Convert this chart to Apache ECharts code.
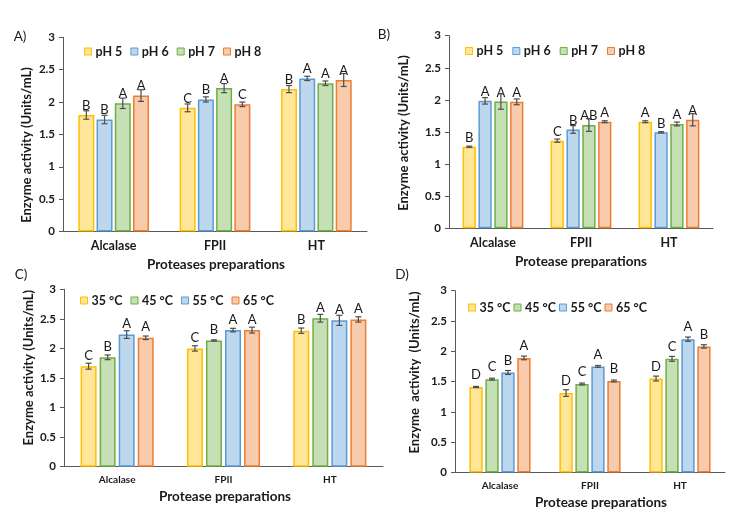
<!DOCTYPE html>
<html><head><meta charset="utf-8">
<script src="https://cdn.jsdelivr.net/npm/echarts@6/dist/echarts.min.js"></script>
<style>html,body{margin:0;padding:0;background:#fff}#c{width:734px;height:518px}</style>
</head><body><div id="c"></div>
<script>
// ---------- data ----------
const categories = ['Alcalase', 'FPII', 'HT'];
const phNames = ['pH 5', 'pH 6', 'pH 7', 'pH 8'];
const tempNames = ['35 °C', '45 °C', '55 °C', '65 °C'];

// Panel A (pH, series x category)
const aVals = [[1.80, 1.91, 2.20], [1.73, 2.04, 2.365], [1.98, 2.215, 2.29], [2.10, 1.965, 2.34]];
const aErrs = [[0.065, 0.06, 0.055], [0.065, 0.04, 0.033], [0.08, 0.07, 0.035], [0.09, 0.035, 0.10]];
const aLets = [['B', 'C', 'B'], ['B', 'B', 'A'], ['A', 'A', 'A'], ['A', 'C', 'A']];

// Panel B (pH)
const bVals = [[1.27, 1.365, 1.66], [1.985, 1.54, 1.495], [1.975, 1.61, 1.625], [1.97, 1.66, 1.69]];
const bErrs = [[0.01, 0.025, 0.015], [0.05, 0.06, 0.01], [0.12, 0.10, 0.03], [0.045, 0.015, 0.095]];
const bLets = [['B', 'C', 'A'], ['A', 'B', 'B'], ['A', 'AB', 'A'], ['A', 'A', 'A']];

// Panel C (temperature)
const cVals = [[1.70, 2.00, 2.30], [1.85, 2.135, 2.51], [2.235, 2.31, 2.475], [2.18, 2.31, 2.49]];
const cErrs = [[0.05, 0.045, 0.045], [0.04, 0.01, 0.065], [0.065, 0.03, 0.085], [0.03, 0.05, 0.045]];
const cLets = [['C', 'C', 'B'], ['B', 'B', 'A'], ['A', 'A', 'A'], ['A', 'A', 'A']];

// Panel D (temperature)
const dVals = [[1.41, 1.31, 1.55], [1.54, 1.46, 1.875], [1.65, 1.75, 2.20], [1.89, 1.51, 2.08]];
const dErrs = [[0.01, 0.055, 0.04], [0.015, 0.015, 0.04], [0.033, 0.015, 0.035], [0.03, 0.015, 0.028]];
const dLets = [['D', 'D', 'D'], ['C', 'C', 'C'], ['B', 'A', 'A'], ['A', 'B', 'B']];

// ---------- styling ----------
const FONT = 'Lato';
const YEL = { fill: '#FFE699', line: '#FFC000' };
const BLU = { fill: '#BDD7EE', line: '#5B9BD5' };
const GRN = { fill: '#C5E0B4', line: '#70AD47' };
const ORG = { fill: '#F8CBAD', line: '#ED7D31' };

const panels = [
  { names: phNames, vals: aVals, errs: aErrs, lets: aLets, cols: [YEL, BLU, GRN, ORG],
    grid: { left: 63, top: 37.3, width: 304, height: 194.2 }, barW: 16, gap: 0.14, labDist: 3, catFont: 12.5,
    legend: { left: 84, top: 45, gap: 8 } },
  { names: phNames, vals: bVals, errs: bErrs, lets: bLets, cols: [YEL, BLU, GRN, ORG],
    grid: { left: 449, top: 35.7, width: 264, height: 192.6 }, barW: 13.3, gap: 0.19, labDist: 2.5, catFont: 12.5,
    legend: { left: 465, top: 44.5, gap: 9 } },
  { names: tempNames, vals: cVals, errs: cErrs, lets: cLets, cols: [YEL, GRN, BLU, ORG],
    grid: { left: 64, top: 289.3, width: 319, height: 177.4 }, barW: 16, gap: 0.19, labDist: 4, catFont: 10,
    legend: { left: 80, top: 294, gap: 8 } },
  { names: tempNames, vals: dVals, errs: dErrs, lets: dLets, cols: [YEL, GRN, BLU, ORG],
    grid: { left: 455, top: 290.7, width: 270, height: 181.7 }, barW: 13.3, gap: 0.2, labDist: 5.5, catFont: 10,
    legend: { left: 468, top: 301, gap: 3 } }
];

const grid = [], xAxis = [], yAxis = [], series = [], legend = [];
panels.forEach((p, pi) => {
  grid.push(Object.assign({ containLabel: false }, p.grid));
  xAxis.push({
    type: 'category', gridIndex: pi, data: categories,
    axisLine: { lineStyle: { color: '#595959', width: 1 } },
    axisTick: { show: false },
    axisLabel: { fontFamily: FONT, fontWeight: 'bold', fontSize: p.catFont, color: '#1a1a1a', margin: 8 }
  });
  yAxis.push({
    type: 'value', gridIndex: pi, min: 0, max: 3, interval: 0.5,
    axisLine: { show: true, lineStyle: { color: '#595959', width: 1 } },
    axisTick: { show: true, length: 4, lineStyle: { color: '#595959' } },
    splitLine: { show: false },
    axisLabel: { fontFamily: FONT, fontWeight: 'bold', fontSize: 11.5, color: '#1a1a1a', margin: 8 }
  });
  legend.push({
    data: p.names, left: p.legend.left, top: p.legend.top, padding: 0,
    itemWidth: 7, itemHeight: 7, itemGap: p.legend.gap, icon: 'rect',
    itemStyle: { borderWidth: 1 },
    textStyle: { fontFamily: FONT, fontWeight: 'bold', fontSize: 12.5, color: '#1a1a1a', padding: [0, 0, 0, -1] },
    selectedMode: false
  });
  p.names.forEach((name, si) => {
    const lets = p.lets[si];
    series.push({
      type: 'bar', name, xAxisIndex: pi, yAxisIndex: pi, data: p.vals[si],
      barWidth: p.barW, barGap: (p.gap * 100) + '%',
      itemStyle: { color: p.cols[si].fill, borderColor: p.cols[si].line, borderWidth: 1.5 },
      label: { show: true, position: 'top', distance: p.labDist,
        formatter: (prm) => lets[prm.dataIndex],
        fontFamily: FONT, fontSize: 13, color: '#1a1a1a' },
      emphasis: { disabled: true }, silent: true
    });
  });
  const errData = [];
  p.vals.forEach((arr, si) => arr.forEach((v, ci) => errData.push([ci, si, v, p.errs[si][ci]])));
  const step = p.barW * (1 + p.gap);
  series.push({
    type: 'custom', xAxisIndex: pi, yAxisIndex: pi, data: errData, z: 5, silent: true,
    renderItem: (params, api) => {
      const ci = api.value(0), si = api.value(1), v = api.value(2), e = api.value(3);
      const x = api.coord([ci, v])[0] + (si - 1.5) * step;
      const yt = api.coord([ci, v + e])[1], yb = api.coord([ci, v - e])[1];
      const st = { stroke: '#4d4d4d', lineWidth: 1.2 };
      return { type: 'group', children: [
        { type: 'line', shape: { x1: x, y1: yt, x2: x, y2: yb }, style: st },
        { type: 'line', shape: { x1: x - 3, y1: yt, x2: x + 3, y2: yt }, style: st },
        { type: 'line', shape: { x1: x - 3, y1: yb, x2: x + 3, y2: yb }, style: st }
      ] };
    }
  });
});

function txt(text, x, y, size, weight, rot) {
  return { type: 'text', x, y, rotation: rot || 0, silent: true,
    style: { text, fill: '#1a1a1a', font: `${weight} ${size}px ${FONT}`, textAlign: 'center', textVerticalAlign: 'middle' } };
}
const graphic = [
  txt('A)', 20, 37, 13.5, 'normal'),
  txt('B)', 384, 35, 13.5, 'normal'),
  txt('C)', 21, 275, 13.5, 'normal'),
  txt('D)', 402, 275, 13.5, 'normal'),
  txt('Enzyme activity (Units/mL)', 26.7, 145, 13, 'bold', Math.PI / 2),
  txt('Enzyme activity (Units/mL)', 404.3, 133, 13, 'bold', Math.PI / 2),
  txt('Enzyme activity (Units/mL)', 29.3, 367.7, 13, 'bold', Math.PI / 2),
  txt('Enzyme  activity  (Units/mL)', 415, 372.5, 13, 'bold', Math.PI / 2),
  txt('Proteases preparations', 216, 265, 13.5, 'bold'),
  txt('Protease preparations', 581, 262, 13.5, 'bold'),
  txt('Protease preparations', 225, 497, 13.5, 'bold'),
  txt('Protease preparations', 601, 503, 13.5, 'bold')
];

const chart = echarts.init(document.getElementById('c'), null, { renderer: 'canvas' });
chart.setOption({ animation: false, backgroundColor: '#fff', textStyle: { fontFamily: FONT },
  grid, xAxis, yAxis, series, legend, graphic });
</script></body></html>
